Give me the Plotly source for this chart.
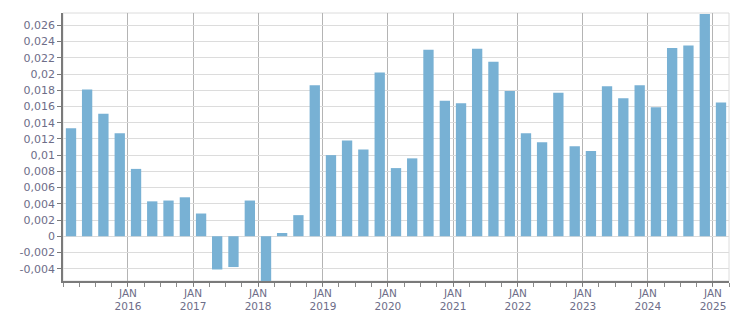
import pandas as pd
import plotly.graph_objects as go

quarters = [str(p) for p in pd.period_range("2015Q1", "2025Q1", freq="Q")]
values = [
    0.0133, 0.0181, 0.0151, 0.0127,
    0.0083, 0.0043, 0.0044, 0.0048,
    0.0028, -0.0041, -0.0038, 0.0044,
    -0.0062, 0.0004, 0.0026, 0.0186,
    0.0100, 0.0118, 0.0107, 0.0202,
    0.0084, 0.0096, 0.0230, 0.0167,
    0.0164, 0.0231, 0.0215, 0.0179,
    0.0127, 0.0116, 0.0177, 0.0111,
    0.0105, 0.0185, 0.0170, 0.0186,
    0.0159, 0.0232, 0.0235, 0.0274,
    0.0165,
]
y_tickvals = [-0.004, -0.002, 0, 0.002, 0.004, 0.006, 0.008, 0.01, 0.012,
              0.014, 0.016, 0.018, 0.02, 0.022, 0.024, 0.026]
y_ticktext = ["-0,004", "-0,002", "0", "0,002", "0,004", "0,006", "0,008", "0,01",
              "0,012", "0,014", "0,016", "0,018", "0,02", "0,022", "0,024", "0,026"]
x_tickvals = ["%d-01-01" % y for y in range(2016, 2026)]
x_ticktext = ["JAN<br>%d" % y for y in range(2016, 2026)]

periods = [pd.Period(q, freq="Q") for q in quarters]
x_mid = [p.start_time + (p.end_time - p.start_time) / 2 for p in periods]

DAY_MS = 86400000
fig = go.Figure(go.Bar(
    x=x_mid, y=values,
    width=[58 * DAY_MS] * len(values),
    marker=dict(color="#78b1d4", line=dict(width=0)),
    hoverinfo="x+y",
))

font = dict(family="DejaVu Sans, Verdana, sans-serif", size=11, color="#6d6d88")
xfont = dict(family="DejaVu Sans, Verdana, sans-serif", size=10.5, color="#6d6d88")
fig.update_layout(
    width=751, height=313,
    margin=dict(l=63, r=22, t=13, b=32, autoexpand=False),
    paper_bgcolor="white", plot_bgcolor="white",
    showlegend=False,
    font=font,
    shapes=[dict(type="rect", xref="paper", yref="paper", x0=0, x1=1, y0=0, y1=1,
                 line=dict(color="#dcdcdc", width=1), layer="below")],
)
fig.update_xaxes(
    type="date", range=["2015-01-01", "2025-04-01"],
    tickmode="array", tickvals=x_tickvals, ticktext=x_ticktext,
    showgrid=True, gridcolor="#b4b4b4", gridwidth=1,
    showline=True, linecolor="#7a7a7a", linewidth=2,
    ticks="outside", ticklen=3, tickcolor="#7a7a7a",
    ticklabelstandoff=-2,
    minor=dict(dtick="M3", tick0="2015-01-01", ticks="outside", ticklen=4,
               tickcolor="#8a8a8a", showgrid=False),
    tickfont=xfont, zeroline=False, automargin=False,
)
fig.update_yaxes(
    range=[-0.00552, 0.02752],
    tickmode="array", tickvals=y_tickvals, ticktext=y_ticktext,
    showgrid=True, gridcolor="#dcdcdc", gridwidth=1,
    showline=True, linecolor="#7a7a7a", linewidth=1.5,
    ticks="outside", ticklen=4, tickcolor="#7a7a7a",
    zeroline=False, tickfont=font, automargin=False,
)
fig.write_html("out.html")
